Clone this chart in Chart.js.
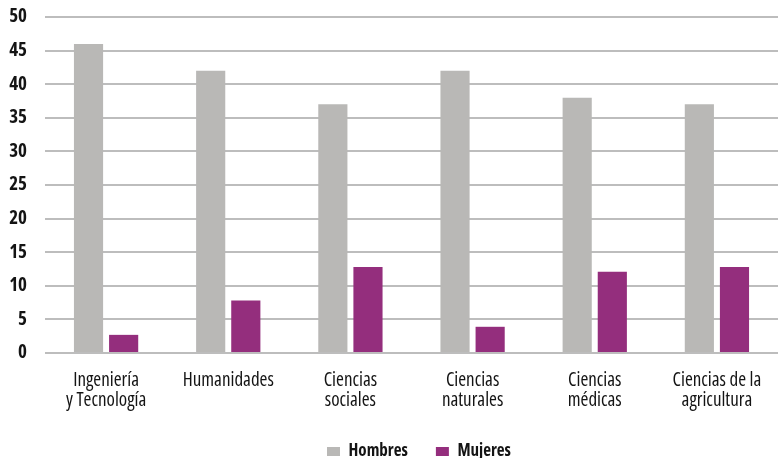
<!DOCTYPE html>
<html>
<head>
<meta charset="utf-8">
<script src="https://cdn.jsdelivr.net/npm/chart.js@4"></script>
<style>
  html, body { margin: 0; padding: 0; background: #ffffff; }
  #wrap { width: 778px; height: 458px; position: relative; }
</style>
</head>
<body>
<div id="wrap"><canvas id="c"></canvas></div>
<script>
// Campos de conocimiento (etiquetas en dos líneas)
const categories = [
  ['Ingeniería', 'y Tecnología'],
  'Humanidades',
  ['Ciencias', 'sociales'],
  ['Ciencias', 'naturales'],
  ['Ciencias', 'médicas'],
  ['Ciencias de la', 'agricultura']
];
const hombres = [46, 42, 37, 42, 38, 37];
const mujeres = [2.7, 7.8, 12.8, 3.9, 12.1, 12.8];
const seriesNames = ['Hombres', 'Mujeres'];
const yTicks = [0, 5, 10, 15, 20, 25, 30, 35, 40, 45, 50];

const FONT = "'Open Sans', 'DejaVu Sans Condensed', sans-serif";
const GRAY = '#b9b8b6';
const PURPLE = '#942e7d';
const TEXT = '#141414';

// Centre the legend under the plotting area rather than the whole canvas
const legendShift = {
  id: 'legendShift',
  afterLayout(chart) {
    if (chart.legend) {
      chart.legend.left += 30;
      chart.legend.right += 30;
    }
  }
};

new Chart(document.getElementById('c'), {
  type: 'bar',
  data: {
    labels: categories,
    datasets: [
      { label: seriesNames[0], data: hombres, backgroundColor: GRAY },
      { label: seriesNames[1], data: mujeres, backgroundColor: PURPLE }
    ]
  },
  plugins: [legendShift],
  options: {
    responsive: true,
    maintainAspectRatio: false,
    animation: false,
    datasets: {
      bar: { categoryPercentage: 0.575, barPercentage: 0.83 }
    },
    layout: { padding: { top: 17, right: 0, left: 0, bottom: -12 } },
    plugins: {
      tooltip: { enabled: false },
      legend: {
        position: 'bottom',
        labels: {
          boxWidth: 13,
          boxHeight: 9,
          padding: 28,
          color: TEXT,
          font: { family: FONT, size: 17, weight: 'bold condensed' }
        }
      }
    },
    scales: {
      x: {
        grid: { display: false, drawTicks: false },
        border: { display: false },
        ticks: {
          color: TEXT,
          padding: 17,
          maxRotation: 0,
          autoSkip: false,
          font: { family: FONT, size: 19, weight: 'condensed', lineHeight: 1.08 }
        },
        afterFit: (axis) => {
          axis.height = 62;
          axis.paddingLeft = 0;
          axis.paddingRight = 0;
        }
      },
      y: {
        min: 0,
        max: 50,
        afterBuildTicks: (axis) => { axis.ticks = yTicks.map(v => ({ value: v })); },
        grid: { color: '#bdbdbd', lineWidth: 2, drawTicks: false },
        border: { display: false },
        ticks: {
          color: TEXT,
          padding: 18,
          font: { family: FONT, size: 19, weight: 'bold condensed' }
        },
        afterFit: (axis) => {
          axis.width = 45;
          axis.paddingTop = 0;
          axis.paddingBottom = 0;
        }
      }
    }
  }
});
</script>
</body>
</html>
